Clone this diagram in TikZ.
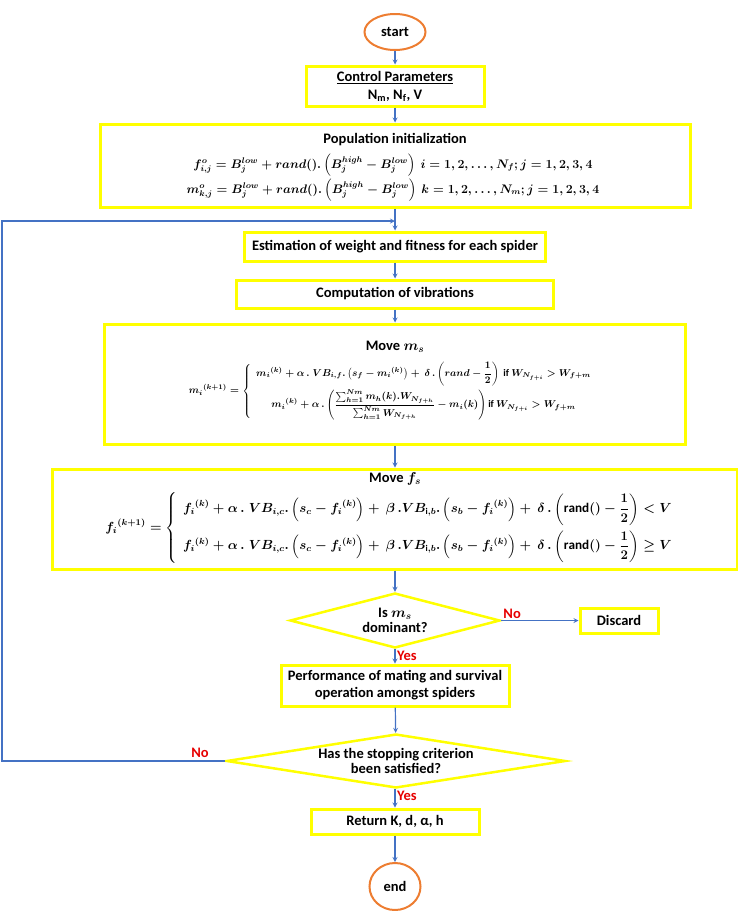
\documentclass[tikz,border=0pt]{standalone}
\usepackage{amsmath,amssymb}
\usepackage{fontspec}
\setmainfont{Carlito}
\usepackage{tikz}
\usetikzlibrary{shapes, arrows, positioning, calc}

\definecolor{boxyellow}{RGB}{255,255,0}
\definecolor{flowblue}{RGB}{68,114,196}
\definecolor{termorange}{RGB}{237,125,49}
\definecolor{answerred}{RGB}{230,0,0}

\begin{document}
\begin{tikzpicture}[x=1pt, y=-1pt, every node/.style={font=\fontsize{14.5}{17}\selectfont\bfseries\boldmath}]

\tikzstyle{term}=[ellipse, draw=termorange, line width=2pt, inner sep=0pt]
\tikzstyle{proc}=[rectangle, draw=boxyellow, line width=3pt, inner sep=2pt, align=center]
\tikzstyle{decide}=[diamond, draw=boxyellow, line width=2.5pt, inner sep=0pt, align=center, font=\fontsize{14.5}{15}\selectfont\bfseries\boldmath]
\tikzstyle{flow}=[draw=flowblue, line width=1.2pt, -stealth]
\tikzstyle{answer}=[text=answerred, inner sep=2pt]
\tikzstyle{eqinit}=[font=\fontsize{12}{15}\selectfont\bfseries\boldmath, scale=1.03, transform shape]
\tikzstyle{eqbig}=[font=\fontsize{12}{15}\selectfont\bfseries\boldmath, scale=1.1, transform shape]
\tikzstyle{eqsmall}=[font=\fontsize{10}{12}\selectfont\bfseries\boldmath]

\useasboundingbox (0,0) rectangle (738,911);

\node (start) at (395,32) [term, minimum width=61, minimum height=36] {start};

\node (ctrl) at (395,86) [proc, minimum width=178, minimum height=40] {\underline{Control Parameters}\\[1pt] N\textsubscript{m}, N\textsubscript{f}, V};

\node (init) at (395,165.5) [proc, minimum width=590, minimum height=83] {};
\node (inittitle) at (395,140) {Population initialization};
\node (initeqf) at (393,165) [eqinit] {$f^{o}_{i,j} = B_j^{low} + rand().\left(B_j^{high} - B_j^{low}\right)\ i = 1, 2, \dots, N_f; j = 1, 2, 3, 4$};
\node (initeqm) at (393,190) [eqinit] {$m^{o}_{k,j} = B_j^{low} + rand().\left(B_j^{high} - B_j^{low}\right)\ k = 1, 2, \dots, N_m; j = 1, 2, 3, 4$};

\node (est) at (395,246.5) [proc, minimum width=301, minimum height=29] {Estimation of weight and fitness for each spider};
\node (comp) at (395,294) [proc, minimum width=317, minimum height=28] {Computation of vibrations};

\node (ms) at (395,384) [proc, minimum width=581, minimum height=120] {};
\node (mstitle) at (395,347) {Move $m_s$};
\node (mseq) at (393,391) [eqsmall] {$\displaystyle {m_i}^{(k+1)} = \left\{\begin{array}{c}
{m_i}^{(k)} + \alpha\,.\;VB_{i,f}.\left(s_f - {m_i}^{(k)}\right) +\ \delta\,.\left(rand - \dfrac{1}{2}\right) \text{ if } W_{N_{f+i}} > W_{f+m}\\[10pt]
{m_i}^{(k)} + \alpha\,.\left(\dfrac{\sum_{h=1}^{Nm} m_h(k).W_{N_{f+h}}}{\sum_{h=1}^{Nm} W_{N_{f+h}}} - m_i(k)\right)\text{if } W_{N_{f+i}} > W_{f+m}
\end{array}\right.$};

\node (fs) at (395,519) [proc, minimum width=685, minimum height=100] {};
\node (fstitle) at (395,479) {Move $f_s$};
\node (fseq) at (392,528) [eqbig] {$\displaystyle {f_i}^{(k+1)} = \left\{\begin{array}{l}
{f_i}^{(k)} + \alpha\,.\;VB_{i,c}.\left(s_c - {f_i}^{(k)}\right) +\ \beta\,.VB_{\mathrm{i},b}.\left(s_b - {f_i}^{(k)}\right) +\ \delta\,.\left(\mathrm{rand}() - \dfrac{1}{2}\right) < V\\[12pt]
{f_i}^{(k)} + \alpha\,.\;VB_{i,c}.\left(s_c - {f_i}^{(k)}\right) +\ \beta\,.VB_{\mathrm{i},b}.\left(s_b - {f_i}^{(k)}\right) +\ \delta\,.\left(\mathrm{rand}() - \dfrac{1}{2}\right) \geq V
\end{array}\right.$};

\node (dom) at (395,620.5) [decide, minimum width=210, minimum height=55, aspect=3.8] {Is $m_s$\\ dominant?};
\node (disc) at (619,620.5) [proc, minimum width=78, minimum height=25] {Discard};
\node (perf) at (395,685.5) [proc, minimum width=228, minimum height=41] {Performance of mating and survival\\ operation amongst spiders};
\node (stop) at (396,761) [decide, minimum width=339, minimum height=54, aspect=6.3] {Has the stopping criterion\\ been satisfied?};
\node (ret) at (395,821.5) [proc, minimum width=168, minimum height=25] {Return K, d, α, h};
\node (end) at (395,886.5) [term, minimum width=51, minimum height=47] {end};

\coordinate (loop) at (2,221);

\draw [flow] (start) -- (ctrl);
\draw [flow] (ctrl) -- (init);
\draw [flow] (init) -- (est);
\draw [flow] (est) -- (comp);
\draw [flow] (comp) -- (ms);
\draw [flow] (ms) -- (fs);
\draw [flow] (fs) -- (dom);
\draw [flow] (dom) -- (perf);
\draw [flow] (dom) -- (disc);
\draw [flow] (perf) -- (stop);
\draw [flow] (stop.south -| ret.north) -- (ret);
\draw [flow] (ret) -- (end);
\draw [flow] (stop.west) -| (loop) -- (loop -| est.north);

\node [answer, above right] at (dom.east) {No};
\node [answer, below right] at (dom.south) {Yes};
\node (nostop) [answer] at (200,753) {No};
\node [answer, below right] at (stop.south -| ret.north) {Yes};

\end{tikzpicture}
\end{document}
